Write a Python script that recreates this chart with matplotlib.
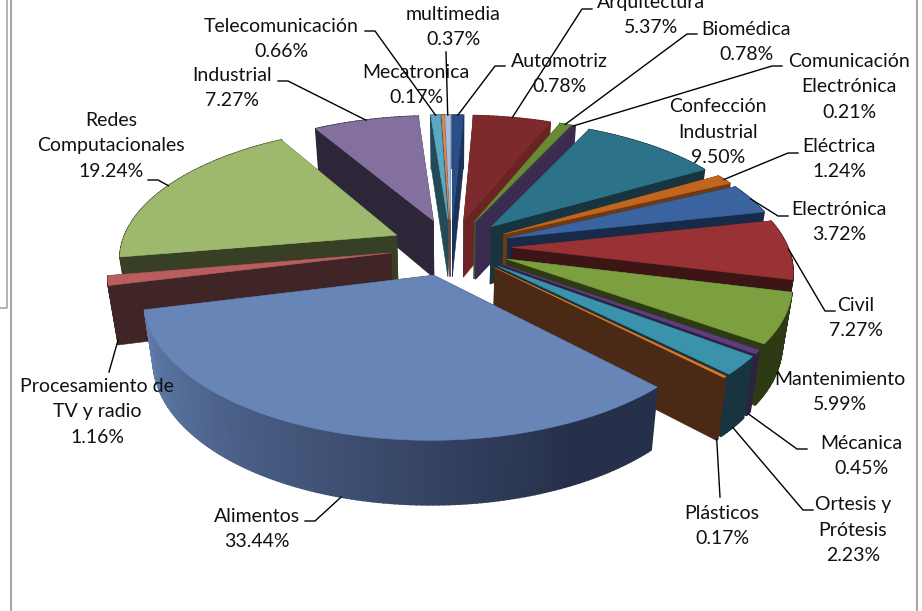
import numpy as np
import matplotlib
matplotlib.use('Agg')
import matplotlib.pyplot as plt
from matplotlib.colors import to_rgb

categories = ['Automotriz', 'Arquitectura', 'Biomédica', 'Comunicación\nElectrónica',
              'Confección\nIndustrial', 'Eléctrica', 'Electrónica', 'Civil', 'Mantenimiento',
              'Mécanica', 'Ortesis y\nPrótesis', 'Plásticos', 'Alimentos',
              'Procesamiento de\nTV y radio', 'Redes\nComputacionales', 'Industrial',
              'Telecomunicación', 'Mecatronica', 'multimedia']
percents = [0.78, 5.37, 0.78, 0.21, 9.50, 1.24, 3.72, 7.27, 5.99, 0.45, 2.23, 0.17,
            33.44, 1.16, 19.24, 7.27, 0.66, 0.17, 0.37]

top_colors = ['#2a4f87', '#7c2a2c', '#678a33', '#40305a', '#2c7389', '#c2651f', '#3a63a0',
              '#993234', '#7ca03f', '#5e3d80', '#3a92ab', '#e07a27', '#6785b7', '#b85e5f',
              '#9eb96d', '#84709f', '#5aa8c4', '#d98a5c', '#a8bcdc']
wall_colors = ['#1b3358', '#6b2324', '#44592a', '#3a2c50', '#17343f', '#6e3a14', '#172a48',
               '#3d1515', '#2d3a14', '#2d2340', '#17343f', '#4a2a14', '#26304a', '#3f2525',
               '#373f24', '#2d2639', '#234a55', '#6e4a30', '#4a5a70']

# posicion de las etiquetas (centro del texto) y quiebre de la linea guia, en pixeles
label_pos = [(559, 74), (651, 15), (746, 42), (849, 87), (718, 132), (839, 159), (839, 222),
             (856, 318), (840, 392), (861, 456), (853, 530), (722, 526), (257, 529), (97, 412),
             (111, 146), (232, 88), (281, 39), (416, 85), (453, 27)]
leaders = [[(505, 66), (495, 66)], [(592, 9), (582, 9)], [(697, 34), (687, 34)],
           [(782, 66), (772, 66)], None, [(798, 153), (788, 153)], [(788, 216), (778, 216)],
           [(835, 311), (825, 311)], None, [(807, 449), (797, 449)], [(813, 510), (803, 510)],
           [(720, 497)], [(305, 521), (315, 521)], [(109, 372)], [(148, 180), (158, 180)],
           [(278, 81), (288, 81)], [(365, 31), (375, 31)], None, [(446, 52)]]
leader_to_base = ['Mécanica', 'Ortesis y\nPrótesis', 'Plásticos', 'Alimentos', 'Procesamiento de\nTV y radio']

# parametros de la perspectiva
cx, cy = 451, 247
rx, ry = 276, 129
persp = 0.158
explode = 0.22
height = 58
shrink = 0.97


def project(x, y):
    w = 1 + persp * y
    return cx + rx * x / w, cy - ry * y / w


def project_base(x, y):
    w = 1 + persp * y
    sx, sy = project(x, y)
    return cx + (sx - cx) * shrink, sy + height / np.sqrt(w)


def mix(c1, c2, t):
    a, b = np.array(to_rgb(c1)), np.array(to_rgb(c2))
    return tuple(a + (b - a) * t)


def fill(ax, xs, ys, color, z, lw=0.4):
    ax.fill(xs, ys, color=color, lw=lw, zorder=z)


fig = plt.figure(figsize=(9.22, 6.11), dpi=100)
ax = fig.add_axes([0, 0, 1, 1])
ax.set_xlim(0, 922)
ax.set_ylim(611, 0)
ax.axis('off')

# marco gris de la captura
ax.plot([11, 11], [0, 611], color='#a6a6a6', lw=1.5)
ax.plot([917, 917], [0, 611], color='#a6a6a6', lw=1.5)
ax.plot([0, 7, 7], [308, 308, 0], color='#a6a6a6', lw=1.2)

edges = np.cumsum([0] + percents) / sum(percents) * 2 * np.pi
mids = (edges[:-1] + edges[1:]) / 2
# de atras hacia adelante
order = np.argsort(-np.cos(mids))

z = 2
for i in order:
    a1, a2 = edges[i], edges[i + 1]
    ox, oy = explode * np.sin(mids[i]), explode * np.cos(mids[i])
    t = np.linspace(a1, a2, max(int((a2 - a1) * 60), 2) + 1)
    rim_x = ox + np.sin(t)
    rim_y = oy + np.cos(t)

    def arc_wall(z):
        for k in range(len(t) - 1):
            tx = rim_x[k:k + 2]
            ty = rim_y[k:k + 2]
            ang = np.degrees((t[k] + t[k + 1]) / 2)
            # solo el frente de Alimentos lleva degradado
            shade = np.clip((ang - 155) / 100, 0, 1) if ang <= 255.9 else 0
            col = mix(wall_colors[i], top_colors[i], shade * 0.9)
            sx, sy = project(tx, ty)
            bx, by = project_base(tx, ty)
            fill(ax, [sx[0], sx[1], bx[1], bx[0]], [sy[0], sy[1], by[1], by[0]], col, z, lw=1.2)

    def radial_walls(z):
        for a in (a1, a2):
            ex, ey = ox + np.sin(a), oy + np.cos(a)
            sx, sy = project(np.array([ox, ex]), np.array([oy, ey]))
            bx, by = project_base(np.array([ox, ex]), np.array([oy, ey]))
            fill(ax, [sx[0], sx[1], bx[1], bx[0]], [sy[0], sy[1], by[1], by[0]], wall_colors[i], z)

    if np.cos(mids[i]) > 0:
        arc_wall(z)
        radial_walls(z + 1)
    else:
        radial_walls(z)
        arc_wall(z + 1)
    px, py = project(np.r_[ox, rim_x], np.r_[oy, rim_y])
    fill(ax, px, py, top_colors[i], z + 2)
    z += 3

# etiquetas y lineas guia
for i, name in enumerate(categories):
    ax.text(label_pos[i][0], label_pos[i][1], '%s\n%.2f%%' % (name, percents[i]), ha='center',
            va='center', fontsize=14, family=['Lato', 'DejaVu Sans'], color='#111111',
            linespacing=1.62, zorder=z + 2)
    if leaders[i] is None:
        continue
    ex, ey = explode * np.sin(mids[i]) + np.sin(mids[i]), explode * np.cos(mids[i]) + np.cos(mids[i])
    if name in leader_to_base:
        end = project_base(ex, ey)
    else:
        end = project(ex, ey)
    pts = leaders[i] + [end]
    ax.plot([p[0] for p in pts], [p[1] for p in pts], color='black', lw=1.0, zorder=z + 1)

plt.savefig('out.png', dpi=100)
